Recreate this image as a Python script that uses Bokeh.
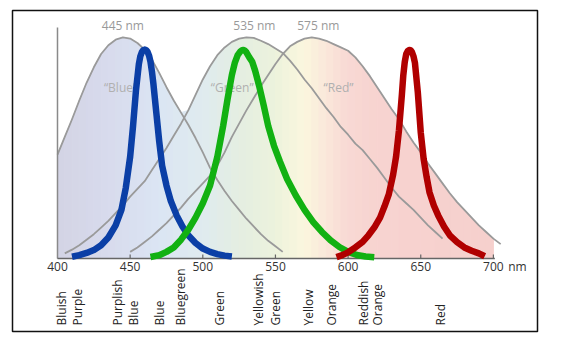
import numpy as np
from bokeh.plotting import figure
from bokeh.models import ColumnDataSource, Range1d
from bokeh.core.properties import value
from bokeh.embed import file_html
from bokeh.resources import INLINE

# ---------------- data ----------------
# broad cone sensitivity curves (gray), 5 nm steps, relative units
blue_cone_start = 400
blue_cone = [47, 55, 63, 71.5, 79.5, 86.5, 92.5, 96.5, 99, 100, 99.5, 97.5, 94.5, 90, 84,
             77.5, 71.5, 66, 60.5, 54.5, 48, 41, 35.5, 30.5, 26, 22, 18, 14.5, 11, 8, 5.5, 3]
green_cone_start = 405
green_cone = [2.3, 4, 6, 8.5, 11, 14, 17, 20.5, 24, 28, 31.5, 35, 40, 45, 50, 55.5, 61, 67,
              74, 81, 87, 92, 95.5, 98, 99.5, 100, 99.8, 98.5, 97, 95, 93, 89.5, 85.5, 81,
              77, 72.5, 68, 64, 59.5, 56, 52, 49, 45, 41, 36.5, 32, 28, 25, 22, 18.5, 15, 12, 9]
red_cone_start = 450
red_cone = [3, 5, 7.5, 10, 13, 16, 19.5, 23, 27, 30.5, 34, 37.5, 42, 48, 55, 61, 67, 72.5,
            78, 83, 88, 92.5, 96, 98, 99.5, 100, 99.5, 98.5, 97, 95.5, 94, 91, 87, 82.5,
            77.5, 72.5, 67.5, 63, 57.5, 52.5, 48, 43, 38.5, 34, 29.5, 25.5, 22, 18.5, 15,
            12, 9, 6.5]

# narrow coloured curves
blue_nm = [410, 415, 420, 425, 430, 435, 440, 444, 447, 450, 452, 454, 456, 457, 458, 459,
           460, 461, 462, 463, 464, 465, 466, 468, 470, 472, 475, 478, 482, 486, 490, 495,
           500, 505, 510, 515, 520]
blue_val = [0.8, 1.5, 2.5, 3.8, 6, 9.5, 15, 22, 32, 46, 60, 76, 88, 91.5, 93.3, 94.2, 94.5,
            94.3, 93.5, 91.8, 89, 84.5, 79, 66, 53, 42, 33, 26, 19.5, 14.5, 10.5, 7, 4.5,
            3, 2, 1.3, 0.9]
green_nm = [464, 470, 475, 480, 485, 490, 495, 500, 505, 510, 514, 517, 520, 522, 524, 526,
            527, 528, 529, 530, 532, 534, 536, 539, 542, 545, 549, 553, 558, 564, 570, 576,
            582, 588, 594, 600, 606, 612, 618]
green_val = [0.7, 1.5, 3, 5, 8.5, 13, 18.5, 25, 33, 46, 60, 72, 83, 88.5, 92, 93.8, 94.2,
             94.3, 94, 93.3, 91, 89, 85, 77.5, 69, 60, 51, 44, 36, 28.5, 22, 16.5, 12, 8.2,
             5.2, 3, 1.6, 0.9, 0.6]
red_nm = [592, 596, 600, 605, 610, 614, 618, 622, 625, 628, 631, 633, 635, 637, 638, 639,
          640, 641, 642, 643, 644, 645, 646, 648, 650, 652, 654, 656, 659, 662, 666, 670,
          675, 680, 685, 690, 694]
red_val = [0.6, 1.5, 2.8, 5, 7.5, 10.5, 14, 18.5, 23.5, 29, 38, 46, 58, 74, 83, 89, 92.5,
           93.8, 94.3, 94.2, 93.3, 91.5, 88.5, 75, 57, 45, 37, 30, 24, 19.5, 14.5, 10.5,
           7.4, 5, 3.5, 2.3, 1]

tick_values = [400, 450, 500, 550, 600, 650, 700]
tick_labels = ["400", "450", "500", "550", "600", "650", "700"]

color_names = ["Bluish", "Purple", "Purplish", "Blue", "Blue", "Bluegreen", "Green",
               "Yellowish", "Green", "Yellow", "Orange", "Reddish", "Orange", "Red"]
color_name_nm = [402.5, 413.6, 441.5, 452.1, 470.2, 484.7, 511.5, 538.3, 550.0, 572.9,
                 588.4, 610.4, 620.4, 663.6]

peak_labels = ["445 nm", "535 nm", "575 nm"]
peak_label_nm = [445, 535.5, 579.5]
cone_names = ["\u201cBlue\u201d", "\u201cGreen\u201d", "\u201cRed\u201d"]
cone_name_nm = [443.4, 520.2, 593.4]

# ---------------- helpers ----------------
def wl_for(start, vals):
    return [start + 5 * i for i in range(len(vals))]

blue_wl = wl_for(blue_cone_start, blue_cone)
green_wl = wl_for(green_cone_start, green_cone)
red_wl = wl_for(red_cone_start, red_cone)

lookup = [dict(zip(blue_wl, blue_cone)), dict(zip(green_wl, green_cone)),
          dict(zip(red_wl, red_cone))]
grid = list(range(400, 705, 5))
env = [max(d.get(w, 0) for d in lookup) for w in grid]

stop_nm = [400, 440, 470, 500, 525, 550, 570, 585, 600, 620, 700]
stop_col = ["#d3d3e4", "#d8dcee", "#dbe5f3", "#dfebef", "#e4eee2", "#ecf2dc", "#fbf7de",
            "#fae7da", "#f8d9d4", "#f7d3d0", "#f6d0cd"]

def hex2rgb(h):
    return [int(h[i:i + 2], 16) for i in (1, 3, 5)]

rgbs = np.array([hex2rgb(c) for c in stop_col], dtype=float)

def color_at(w):
    r, g, b = (int(round(np.interp(w, stop_nm, rgbs[:, k]))) for k in range(3))
    return "#%02x%02x%02x" % (r, g, b)

xs, ys, cols = [], [], []
for i in range(len(grid) - 1):
    xs.append([grid[i], grid[i], grid[i + 1], grid[i + 1]])
    ys.append([0, env[i], env[i + 1], 0])
    cols.append(color_at((grid[i] + grid[i + 1]) / 2))

# ---------------- figure ----------------
p = figure(width=563, height=347, x_range=Range1d(369.03, 730.35),
           y_range=Range1d(-33.03, 112.2), output_backend="svg", toolbar_location=None,
           x_axis_type=None, y_axis_type=None,
           min_border_left=12, min_border_right=26, min_border_top=10, min_border_bottom=16)
p.outline_line_color = "#111111"
p.outline_line_width = 1.5
p.background_fill_color = "white"
p.border_fill_color = "white"

FONT = value("Open Sans")

p.patches(xs=xs, ys=ys, fill_color=cols, line_color=cols, line_width=1)

for wl, vals in ((blue_wl, blue_cone), (green_wl, green_cone), (red_wl, red_cone)):
    p.line(wl, vals, line_color="#9a9a9a", line_width=1.8, line_join="round")

# axes drawn as glyphs
p.segment(x0=[400], y0=[0], x1=[400], y1=[104.5], line_color="#8a8a8a", line_width=1.5)
p.segment(x0=[400], y0=[0], x1=[701], y1=[0], line_color="#666666", line_width=1.5)
p.segment(x0=tick_values[1:], y0=[0] * 6, x1=tick_values[1:], y1=[1.8] * 6,
          line_color="#666666", line_width=1.2)

# cone names (under coloured curves)
p.text(x=cone_name_nm, y=[77.5] * 3, text=cone_names, text_font=FONT,
       text_font_size="12px", text_color="#b0b0b0", text_align="center",
       text_baseline="middle")

p.line(blue_nm, blue_val, line_color="#0b3fa6", line_width=6.5, line_join="round")
p.line(green_nm, green_val, line_color="#12b112", line_width=6.5, line_join="round")
p.line(red_nm, red_val, line_color="#b00000", line_width=6.5, line_join="round")

p.text(x=peak_label_nm, y=[105.4] * 3, text=peak_labels, text_font=FONT,
       text_font_size="12px", text_color="#999999", text_align="center",
       text_baseline="middle")

p.text(x=tick_values, y=[-3.7] * 7, text=tick_labels, text_font=FONT,
       text_font_size="12px", text_color="#333333", text_align="center",
       text_baseline="middle")
p.text(x=[710.2], y=[-3.7], text=["nm"], text_font=FONT, text_font_size="12px",
       text_color="#333333", text_align="left", text_baseline="middle")

p.text(x=color_name_nm, y=[-30.3] * len(color_names), text=color_names, text_font=FONT,
       text_font_size="12px", text_color="#222222", text_align="left",
       text_baseline="middle", angle=np.pi / 2)

open("out.html", "w").write(file_html(p, INLINE))
